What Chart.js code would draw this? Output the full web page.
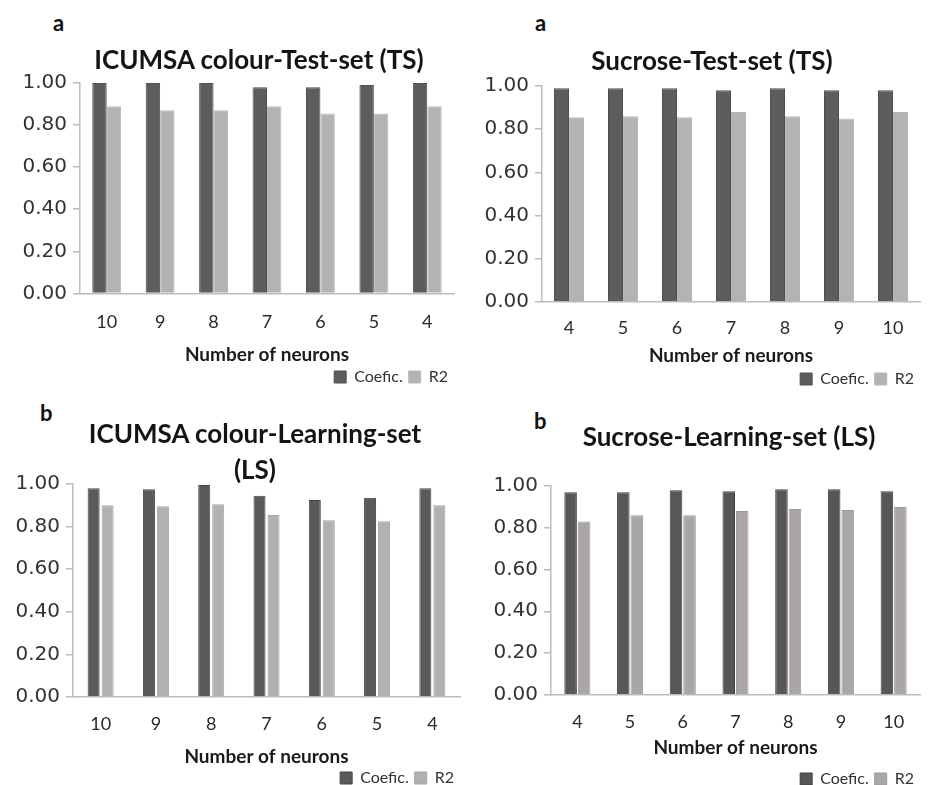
<!DOCTYPE html>
<html>
<head>
<meta charset="utf-8">
<script src="https://cdn.jsdelivr.net/npm/chart.js@4.4.1/dist/chart.umd.min.js"></script>
<style>
  html, body { margin: 0; padding: 0; background: #ffffff; overflow: hidden; }
  body { width: 929px; height: 785px; position: relative; }
  .panel { position: absolute; }
  .tag { position: absolute; font: bold 22px Lato, sans-serif; color: #111; line-height: 1; }
  .ttl { position: absolute; font: bold 26px Lato, sans-serif; color: #141414; line-height: 36px; text-align: center; white-space: nowrap; transform: translateX(-50%); }
</style>
</head>
<body>
<div class="tag" style="left:53px;top:12px;">a</div>
<div class="tag" style="left:535px;top:12px;">a</div>
<div class="tag" style="left:40px;top:402px;">b</div>
<div class="tag" style="left:534px;top:410px;">b</div>

<canvas id="c1" class="panel" style="left:0px;top:0px;" width="460" height="395"></canvas>
<canvas id="c2" class="panel" style="left:465px;top:0px;" width="461" height="397"></canvas>
<canvas id="c3" class="panel" style="left:0px;top:392px;" width="466" height="404"></canvas>
<canvas id="c4" class="panel" style="left:465px;top:392px;" width="461" height="405"></canvas>

<div class="ttl" style="left:259px;top:41px;">ICUMSA colour-Test-set (TS)</div>
<div class="ttl" style="left:712px;top:42px;">Sucrose-Test-set (TS)</div>
<div class="ttl" style="left:255px;top:415px;">ICUMSA colour-Learning-set<br>(LS)</div>
<div class="ttl" style="left:729px;top:418px;">Sucrose-Learning-set (LS)</div>

<script>
// Neuron counts shown on each x axis
const neuronsDescending = ['10', '9', '8', '7', '6', '5', '4'];
const neuronsAscending = ['4', '5', '6', '7', '8', '9', '10'];

// ICUMSA colour, test set
const icumsaTestCoefic = [1.00, 1.00, 1.00, 0.98, 0.98, 0.99, 1.00];
const icumsaTestR2 = [0.89, 0.87, 0.87, 0.89, 0.855, 0.855, 0.89];

// Sucrose, test set
const sucroseTestCoefic = [0.99, 0.99, 0.99, 0.98, 0.99, 0.98, 0.98];
const sucroseTestR2 = [0.855, 0.86, 0.855, 0.88, 0.86, 0.85, 0.88];

// ICUMSA colour, learning set
const icumsaLearnCoefic = [0.98, 0.975, 0.995, 0.945, 0.925, 0.935, 0.98];
const icumsaLearnR2 = [0.90, 0.895, 0.905, 0.855, 0.83, 0.825, 0.90];

// Sucrose, learning set
const sucroseLearnCoefic = [0.97, 0.97, 0.98, 0.975, 0.985, 0.985, 0.975];
const sucroseLearnR2 = [0.83, 0.86, 0.86, 0.88, 0.89, 0.885, 0.90];

const seriesNames = ['Coefic.', 'R2'];
const yTicks = { min: 0, max: 1, step: 0.2 };

Chart.defaults.font.family = 'Lato, "Open Sans", sans-serif';
Chart.defaults.color = '#333333';

function makeChart(id, p) {
  return new Chart(document.getElementById(id), {
    type: 'bar',
    data: {
      labels: p.labels,
      datasets: [
        {
          label: seriesNames[0],
          data: p.coefic,
          backgroundColor: p.dark,
          borderColor: p.darkEdge,
          borderWidth: 1,
          categoryPercentage: p.cat,
          barPercentage: p.bar
        },
        {
          label: seriesNames[1],
          data: p.r2,
          backgroundColor: p.light,
          borderColor: p.lightEdge,
          borderWidth: 1,
          categoryPercentage: p.cat,
          barPercentage: p.bar
        }
      ]
    },
    options: {
      responsive: false,
      animation: false,
      devicePixelRatio: 1,
      layout: { padding: { left: p.left - 62, right: 6, top: p.top, bottom: 0 } },
      plugins: {
        tooltip: { enabled: false },
        title: { display: false },
        legend: {
          display: true,
          position: 'bottom',
          align: 'end',
          labels: {
            boxWidth: 12,
            boxHeight: 12,
            padding: 6,
            color: '#333333',
            font: { size: 16 }
          }
        }
      },
      scales: {
        x: {
          grid: { display: true, drawOnChartArea: false, drawTicks: false },
          border: { display: true, color: '#bdbdbd', width: 1.5 },
          ticks: { padding: p.xPad, color: '#2a2a2a', font: { size: 18 } },
          title: {
            display: true,
            text: 'Number of neurons',
            color: '#1a1a1a',
            font: { size: 19, weight: 'bold' },
            padding: { top: p.axTop, bottom: p.axBottom }
          }
        },
        y: {
          min: yTicks.min,
          max: yTicks.max,
          afterFit(scale) { scale.width = 62; },
          grid: { drawOnChartArea: false, drawTicks: true, tickLength: 7, color: '#bdbdbd', lineWidth: 1.5 },
          border: { display: true, color: '#bdbdbd', width: 1.5 },
          ticks: {
            stepSize: yTicks.step,
            padding: 6,
            color: '#333333',
            font: { family: '"DejaVu Sans", sans-serif', size: 20 },
            callback: v => Number(v).toFixed(2)
          }
        }
      }
    }
  });
}

makeChart('c1', {
  labels: neuronsDescending, coefic: icumsaTestCoefic, r2: icumsaTestR2,
  left: 80, top: 83, xPad: 18.2, axTop: -7.8, axBottom: -3.4,
  cat: 0.54, bar: 1.0,
  dark: '#5d5d5d', darkEdge: '#505050', light: '#b3b3b3', lightEdge: '#b8b8b8'
});

makeChart('c2', {
  labels: neuronsAscending, coefic: sucroseTestCoefic, r2: sucroseTestR2,
  left: 77, top: 86, xPad: 15.2, axTop: -9.9, axBottom: -1.9,
  cat: 0.556, bar: 1.0,
  dark: '#5d5d5d', darkEdge: '#505050', light: '#b3b3b3', lightEdge: '#b8b8b8'
});

makeChart('c3', {
  labels: neuronsDescending, coefic: icumsaLearnCoefic, r2: icumsaLearnR2,
  left: 73, top: 92, xPad: 16.5, axTop: -6.2, axBottom: -4.2,
  cat: 0.506, bar: 0.86,
  dark: '#5a5a5a', darkEdge: '#474747', light: '#b1b1b1', lightEdge: '#a5a5a5'
});

makeChart('c4', {
  labels: neuronsAscending, coefic: sucroseLearnCoefic, r2: sucroseLearnR2,
  left: 86, top: 94, xPad: 16.6, axTop: -13, axBottom: 5.6,
  cat: 0.512, bar: 0.93,
  dark: '#575757', darkEdge: '#424242', light: '#aba6a6', lightEdge: '#a09b9b'
});
</script>
</body>
</html>
